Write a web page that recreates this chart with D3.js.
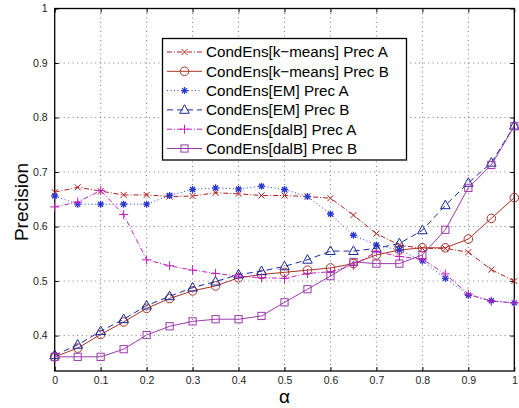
<!DOCTYPE html>
<html>
<head>
<meta charset="utf-8">
<script src="https://cdn.jsdelivr.net/npm/d3@7"></script>
<style>
  html, body { margin: 0; padding: 0; background: #fff; }
  svg { display: block; font-family: "Liberation Sans", Arial, Helvetica, sans-serif; }
</style>
</head>
<body>
<svg id="chart" width="519" height="408"></svg>
<script>
// alpha values shared by every series
const alpha = [0, 0.05, 0.1, 0.15, 0.2, 0.25, 0.3, 0.35, 0.4, 0.45, 0.5,
               0.55, 0.6, 0.65, 0.7, 0.75, 0.8, 0.85, 0.9, 0.95, 1];

const kmeansPrecA = [0.663, 0.672, 0.665, 0.658, 0.658, 0.655, 0.656, 0.662, 0.660, 0.657, 0.657,
                     0.655, 0.652, 0.621, 0.587, 0.566, 0.560, 0.560, 0.553, 0.521, 0.500];
const kmeansPrecB = [0.361, 0.377, 0.402, 0.425, 0.450, 0.468, 0.482, 0.491, 0.506, 0.512, 0.516,
                     0.520, 0.524, 0.532, 0.548, 0.557, 0.561, 0.561, 0.577, 0.615, 0.653];
const emPrecA     = [0.656, 0.641, 0.641, 0.641, 0.641, 0.657, 0.668, 0.671, 0.669, 0.674, 0.668,
                     0.655, 0.623, 0.584, 0.566, 0.557, 0.537, 0.505, 0.474, 0.464, 0.460];
const emPrecB     = [0.364, 0.383, 0.408, 0.430, 0.455, 0.472, 0.488, 0.499, 0.512, 0.518, 0.527,
                     0.539, 0.555, 0.555, 0.560, 0.569, 0.593, 0.639, 0.680, 0.717, 0.785];
const dalbPrecA   = [0.636, 0.645, 0.666, 0.622, 0.539, 0.528, 0.520, 0.514, 0.509, 0.506, 0.505,
                     0.514, 0.517, 0.529, 0.554, 0.545, 0.540, 0.513, 0.476, 0.463, 0.460];
const dalbPrecB   = [0.361, 0.361, 0.361, 0.375, 0.401, 0.417, 0.426, 0.430, 0.430, 0.436, 0.461,
                     0.485, 0.509, 0.535, 0.532, 0.532, 0.548, 0.594, 0.671, 0.713, 0.784];

const seriesNames = ["CondEns[k\u2212means] Prec A", "CondEns[k\u2212means] Prec B",
                     "CondEns[EM] Prec A", "CondEns[EM] Prec B",
                     "CondEns[dalB] Prec A", "CondEns[dalB] Prec B"];

const xTicks = [0, 0.1, 0.2, 0.3, 0.4, 0.5, 0.6, 0.7, 0.8, 0.9, 1];
const yTicks = [0.4, 0.5, 0.6, 0.7, 0.8, 0.9, 1];

// drawing styles for each series
const styles = [
  { values: kmeansPrecA, color: "#b01c1c", dash: "5,2,1,2", marker: "x" },
  { values: kmeansPrecB, color: "#a83228", dash: null,      marker: "o" },
  { values: emPrecA,     color: "#2a3ad0", dash: "1,2.5",   marker: "*" },
  { values: emPrecB,     color: "#1c2a9c", dash: "6,4",     marker: "^" },
  { values: dalbPrecA,   color: "#c020c0", dash: "5,2,1,2", marker: "+" },
  { values: dalbPrecB,   color: "#9a3aaa", dash: null,      marker: "s" }
];

const svg = d3.select("#chart");
const plotL = 54.7, plotR = 514.3, plotT = 8.5, plotB = 371;

const x = d3.scaleLinear().domain([0, 1]).range([plotL, plotR]);
const y = d3.scaleLinear().domain([0.335, 1]).range([plotB, plotT]);

// dotted grid
const grid = svg.append("g");
grid.selectAll(".gx").data(xTicks.slice(1, -1)).join("line")
  .attr("x1", d => x(d)).attr("x2", d => x(d))
  .attr("y1", plotT).attr("y2", plotB)
  .attr("stroke", "#555").attr("stroke-width", 0.8).attr("stroke-dasharray", "1,3.5");
grid.selectAll(".gy").data(yTicks.slice(0, -1)).join("line")
  .attr("x1", plotL).attr("x2", plotR)
  .attr("y1", d => y(d)).attr("y2", d => y(d))
  .attr("stroke", "#555").attr("stroke-width", 0.8).attr("stroke-dasharray", "1,3.5");

// axes with inward ticks on all four sides
const fmt = d => (d === 0 || d === 1) ? String(d) : d.toFixed(1);
const axB = svg.append("g").attr("transform", `translate(0,${plotB})`)
  .call(d3.axisBottom(x).tickValues(xTicks).tickFormat(fmt).tickSizeInner(-4).tickSizeOuter(0).tickPadding(5.5));
const axL = svg.append("g").attr("transform", `translate(${plotL},0)`)
  .call(d3.axisLeft(y).tickValues(yTicks).tickFormat(fmt).tickSizeInner(-4).tickSizeOuter(0).tickPadding(7));
const axT = svg.append("g").attr("transform", `translate(0,${plotT})`)
  .call(d3.axisTop(x).tickValues(xTicks).tickFormat("").tickSizeInner(-4).tickSizeOuter(0));
const axR = svg.append("g").attr("transform", `translate(${plotR},0)`)
  .call(d3.axisRight(y).tickValues(yTicks).tickFormat("").tickSizeInner(-4).tickSizeOuter(0));
[axB, axL, axT, axR].forEach(a => {
  a.select(".domain").remove();
  a.selectAll("line").attr("stroke", "#000").attr("stroke-width", 1);
  a.selectAll("text").attr("font-size", 10.5).attr("fill", "#222")
    .attr("font-family", "'Liberation Sans', Arial, sans-serif");
});
svg.append("rect").attr("x", plotL).attr("y", plotT)
  .attr("width", plotR - plotL).attr("height", plotB - plotT)
  .attr("fill", "none").attr("stroke", "#000").attr("stroke-width", 1.3);

// marker shapes
function drawMarker(g, kind, cx, cy, color) {
  const s = 3.6;
  if (kind === "x") {
    g.append("path").attr("d", `M${cx - 3},${cy - 3}L${cx + 3},${cy + 3}M${cx - 3},${cy + 3}L${cx + 3},${cy - 3}`)
      .attr("stroke", color).attr("stroke-width", 1).attr("fill", "none");
  } else if (kind === "o") {
    g.append("circle").attr("cx", cx).attr("cy", cy).attr("r", 4.3)
      .attr("stroke", color).attr("stroke-width", 1).attr("fill", "none");
  } else if (kind === "*") {
    const a = 3.5, b = 2.5;
    g.append("path").attr("d",
      `M${cx - a},${cy}L${cx + a},${cy}M${cx},${cy - a}L${cx},${cy + a}` +
      `M${cx - b},${cy - b}L${cx + b},${cy + b}M${cx - b},${cy + b}L${cx + b},${cy - b}`)
      .attr("stroke", color).attr("stroke-width", 1.3).attr("fill", "none");
  } else if (kind === "^") {
    g.append("path").attr("d", `M${cx},${cy - 5.2}L${cx + 4.8},${cy + 3.4}L${cx - 4.8},${cy + 3.4}Z`)
      .attr("stroke", color).attr("stroke-width", 1).attr("fill", "none");
  } else if (kind === "+") {
    g.append("path").attr("d", `M${cx - 4.5},${cy}L${cx + 4.5},${cy}M${cx},${cy - 4.5}L${cx},${cy + 4.5}`)
      .attr("stroke", color).attr("stroke-width", 1).attr("fill", "none");
  } else if (kind === "s") {
    g.append("rect").attr("x", cx - s).attr("y", cy - s).attr("width", 2 * s).attr("height", 2 * s)
      .attr("stroke", color).attr("stroke-width", 1).attr("fill", "none");
  }
}

const line = d3.line().x((d, i) => x(alpha[i])).y(d => y(d));
const plot = svg.append("g");
styles.forEach(st => {
  const g = plot.append("g");
  g.append("path").datum(st.values).attr("d", line)
    .attr("fill", "none").attr("stroke", st.color).attr("stroke-width", 1)
    .attr("stroke-dasharray", st.dash);
  st.values.forEach((v, i) => drawMarker(g, st.marker, x(alpha[i]), y(v), st.color));
});

// legend
const lg = svg.append("g");
lg.append("rect").attr("x", 162.5).attr("y", 38.5).attr("width", 244).attr("height", 121.5)
  .attr("fill", "#fff").attr("stroke", "#000").attr("stroke-width", 1.3);
styles.forEach((st, i) => {
  const cy = 52 + i * 19.3;
  lg.append("line").attr("x1", 167).attr("x2", 202).attr("y1", cy).attr("y2", cy)
    .attr("stroke", st.color).attr("stroke-width", 1).attr("stroke-dasharray", st.dash);
  drawMarker(lg, st.marker, 184.5, cy, st.color);
  lg.append("text").attr("x", 206).attr("y", cy + 5.3).attr("font-size", 15.2)
    .attr("fill", "#000").text(seriesNames[i]);
});

// axis titles
svg.append("text").attr("transform", `translate(28,202) rotate(-90)`)
  .attr("text-anchor", "middle").attr("font-size", 19).attr("fill", "#000").text("Precision");
svg.append("text").attr("x", (plotL + plotR) / 2).attr("y", 403.3)
  .attr("text-anchor", "middle").attr("font-size", 19).attr("fill", "#000").text("\u03b1");
</script>
</body>
</html>
